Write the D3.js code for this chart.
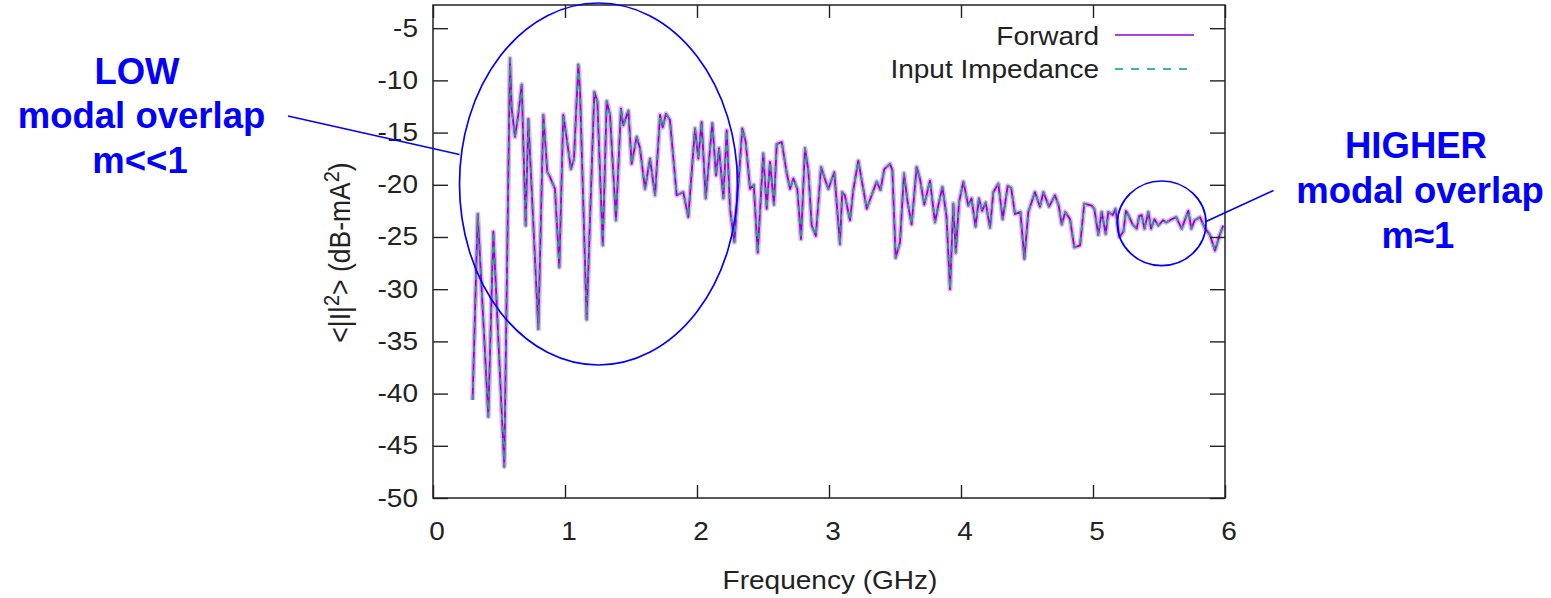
<!DOCTYPE html>
<html>
<head>
<meta charset="utf-8">
<script src="https://cdn.jsdelivr.net/npm/d3@7"></script>
<style>
  html, body { margin: 0; padding: 0; background: #ffffff; }
  svg { display: block; }
</style>
</head>
<body>
<svg id="chart" width="1551" height="598"></svg>
<script>
// Frequency samples (GHz)
const freqGHz = [
  0.30, 0.339, 0.419, 0.457, 0.54, 0.583, 0.596, 0.621, 0.646, 0.672,
  0.702, 0.722, 0.798, 0.836, 0.866, 0.881, 0.924, 0.957, 0.987, 1.013,
  1.045, 1.068, 1.101, 1.114, 1.164, 1.222, 1.245, 1.286, 1.316, 1.341,
  1.386, 1.424, 1.442, 1.48, 1.505, 1.543, 1.568, 1.606, 1.644, 1.682,
  1.72, 1.74, 1.765, 1.795, 1.846, 1.896, 1.934, 1.985, 2.01, 2.035,
  2.066, 2.116, 2.144, 2.167, 2.20, 2.225, 2.25, 2.283, 2.343, 2.369,
  2.402, 2.43, 2.46, 2.502, 2.528, 2.553, 2.583, 2.604, 2.642, 2.68,
  2.705, 2.73, 2.76, 2.788, 2.818, 2.843, 2.869, 2.90, 2.94, 2.97,
  2.995, 3.04, 3.083, 3.10, 3.12, 3.159, 3.184, 3.222, 3.286, 3.323,
  3.361, 3.39, 3.419, 3.462, 3.48, 3.505, 3.538, 3.568, 3.596, 3.626,
  3.664, 3.69, 3.722, 3.765, 3.803, 3.828, 3.859, 3.89, 3.917, 3.942,
  3.96, 3.985, 4.018, 4.055, 4.08, 4.11, 4.136, 4.16, 4.187, 4.22,
  4.245, 4.283, 4.316, 4.354, 4.38, 4.409, 4.45, 4.48, 4.51, 4.56,
  4.598, 4.624, 4.667, 4.712, 4.74, 4.763, 4.79, 4.826, 4.858, 4.902,
  4.934, 4.99, 5.01, 5.04, 5.066, 5.096, 5.116, 5.15, 5.17, 5.20,
  5.23, 5.25, 5.268, 5.30, 5.331, 5.35, 5.369, 5.39, 5.419, 5.44,
  5.465, 5.495, 5.53, 5.555, 5.596, 5.63, 5.672, 5.722, 5.745, 5.77,
  5.81, 5.85, 5.886, 5.924, 5.957, 5.987
];

// <|I|^2> from the forward computation (dB-mA^2)
const forwardDb = [
  -40.6, -22.8, -42.2, -24.5, -47.0, -7.9, -12.7, -15.4, -13.3, -10.4,
  -23.9, -13.7, -33.8, -13.3, -18.8, -19.1, -20.4, -27.9, -13.3, -15.6,
  -18.5, -17.5, -8.5, -11.1, -32.9, -11.1, -12.0, -25.8, -12.0, -13.3,
  -23.4, -12.7, -14.3, -12.9, -18.0, -15.4, -16.5, -20.4, -17.5, -21.0,
  -13.3, -14.5, -13.2, -13.8, -21.0, -20.7, -23.1, -14.6, -17.5, -14.0,
  -21.3, -14.1, -19.1, -16.5, -21.3, -14.8, -22.3, -25.5, -14.6, -15.9,
  -20.4, -20.0, -26.5, -17.0, -22.3, -17.8, -21.9, -16.1, -15.9, -18.9,
  -20.4, -19.4, -20.4, -25.2, -16.5, -18.6, -23.9, -24.9, -18.3, -19.5,
  -20.4, -18.8, -25.7, -20.7, -21.0, -23.4, -20.5, -17.7, -22.3, -21.0,
  -19.7, -20.5, -18.5, -18.0, -18.6, -27.0, -25.5, -18.9, -21.7, -23.8,
  -18.3, -19.5, -21.9, -19.6, -23.6, -22.0, -20.2, -23.0, -30.0, -21.8,
  -26.5, -21.7, -19.7, -22.0, -21.3, -24.0, -21.3, -22.5, -21.7, -24.1,
  -20.7, -19.9, -23.3, -20.1, -20.3, -22.8, -22.6, -27.1, -22.6, -20.7,
  -22.1, -20.7, -22.1, -21.0, -22.0, -23.8, -22.6, -23.3, -26.0, -25.8,
  -21.8, -22.0, -22.3, -24.8, -22.6, -24.7, -22.6, -22.9, -22.3, -25.0,
  -24.5, -22.5, -22.9, -23.8, -24.2, -23.0, -22.9, -24.2, -22.6, -24.2,
  -23.3, -23.9, -23.4, -23.6, -23.3, -23.1, -24.2, -22.5, -24.2, -23.4,
  -23.1, -24.2, -24.8, -26.3, -24.9, -23.9
];

// <|I|^2> from the input-impedance computation (dB-mA^2); coincides with the forward curve
const inputImpedanceDb = [
  -40.6, -22.8, -42.2, -24.5, -47.0, -7.9, -12.7, -15.4, -13.3, -10.4,
  -23.9, -13.7, -33.8, -13.3, -18.8, -19.1, -20.4, -27.9, -13.3, -15.6,
  -18.5, -17.5, -8.5, -11.1, -32.9, -11.1, -12.0, -25.8, -12.0, -13.3,
  -23.4, -12.7, -14.3, -12.9, -18.0, -15.4, -16.5, -20.4, -17.5, -21.0,
  -13.3, -14.5, -13.2, -13.8, -21.0, -20.7, -23.1, -14.6, -17.5, -14.0,
  -21.3, -14.1, -19.1, -16.5, -21.3, -14.8, -22.3, -25.5, -14.6, -15.9,
  -20.4, -20.0, -26.5, -17.0, -22.3, -17.8, -21.9, -16.1, -15.9, -18.9,
  -20.4, -19.4, -20.4, -25.2, -16.5, -18.6, -23.9, -24.9, -18.3, -19.5,
  -20.4, -18.8, -25.7, -20.7, -21.0, -23.4, -20.5, -17.7, -22.3, -21.0,
  -19.7, -20.5, -18.5, -18.0, -18.6, -27.0, -25.5, -18.9, -21.7, -23.8,
  -18.3, -19.5, -21.9, -19.6, -23.6, -22.0, -20.2, -23.0, -30.0, -21.8,
  -26.5, -21.7, -19.7, -22.0, -21.3, -24.0, -21.3, -22.5, -21.7, -24.1,
  -20.7, -19.9, -23.3, -20.1, -20.3, -22.8, -22.6, -27.1, -22.6, -20.7,
  -22.1, -20.7, -22.1, -21.0, -22.0, -23.8, -22.6, -23.3, -26.0, -25.8,
  -21.8, -22.0, -22.3, -24.8, -22.6, -24.7, -22.6, -22.9, -22.3, -25.0,
  -24.5, -22.5, -22.9, -23.8, -24.2, -23.0, -22.9, -24.2, -22.6, -24.2,
  -23.3, -23.9, -23.4, -23.6, -23.3, -23.1, -24.2, -22.5, -24.2, -23.4,
  -23.1, -24.2, -24.8, -26.3, -24.9, -23.9
];

const xTicks = [0, 1, 2, 3, 4, 5, 6];
const yTicks = [-50, -45, -40, -35, -30, -25, -20, -15, -10, -5];
const seriesNames = ["Forward", "Input Impedance"];

const lowLabel = ["LOW", "modal overlap", "m<<1"];
const highLabel = ["HIGHER", "modal overlap", "m\u22481"];

// ---- layout ----
const plot = { left: 433, right: 1225, top: 5, bottom: 498 };
const axisFont = "'Liberation Sans', Arial, Helvetica, sans-serif";
const axisFontSize = 25;
const widenK = 1.12;           // chart text is set slightly wide
const purple = "#9400D3";
const green = "#009E73";
const blue = "#0000FF";
const ink = "#222222";

const svg = d3.select("#chart");

const x = d3.scaleLinear().domain([0, 6]).range([plot.left, plot.right]);
const y = d3.scaleLinear().domain([-50, -2.78]).range([plot.bottom, plot.top]);

// plain hyphen-minus for negative tick labels
const tickFmt = d => String(d);

function widen(sel, k) {
  sel.each(function () {
    const w = this.getComputedTextLength();
    this.setAttribute("textLength", (w * k).toFixed(2));
    this.setAttribute("lengthAdjust", "spacingAndGlyphs");
  });
}

// ---- clip for the traces ----
svg.append("defs").append("clipPath").attr("id", "plotClip")
  .append("rect")
  .attr("x", plot.left).attr("y", plot.top)
  .attr("width", plot.right - plot.left).attr("height", plot.bottom - plot.top);

// ---- traces ----
const pts = (vals) => freqGHz.map((f, i) => [f, vals[i]]);
const line = d3.line().x(d => x(d[0])).y(d => y(d[1]));

const traces = svg.append("g").attr("clip-path", "url(#plotClip)");
// soft halo around the forward trace
traces.append("path")
  .attr("d", line(pts(forwardDb)))
  .attr("fill", "none")
  .attr("stroke", purple)
  .attr("stroke-opacity", 0.3)
  .attr("stroke-width", 5)
  .attr("stroke-linejoin", "round");
traces.append("path")
  .attr("d", line(pts(forwardDb)))
  .attr("fill", "none")
  .attr("stroke", purple)
  .attr("stroke-width", 1.8)
  .attr("stroke-linejoin", "round");
traces.append("path")
  .attr("d", line(pts(inputImpedanceDb)))
  .attr("fill", "none")
  .attr("stroke", "#2f9c84")
  .attr("stroke-width", 1.8)
  .attr("stroke-dasharray", "6,6")
  .attr("stroke-linejoin", "round");

// ---- axes (inward ticks, mirrored) ----
function styleAxis(g) {
  g.select(".domain").remove();
  g.selectAll(".tick line").attr("stroke", ink).attr("stroke-width", 1.4);
  g.selectAll(".tick text")
    .attr("fill", ink)
    .style("font-family", axisFont)
    .style("font-size", axisFontSize + "px");
}

const gx = svg.append("g")
  .attr("transform", `translate(0,${plot.bottom})`)
  .call(d3.axisBottom(x).tickValues(xTicks).tickFormat(tickFmt)
    .tickSizeInner(-13).tickSizeOuter(0).tickPadding(24));
styleAxis(gx);
gx.selectAll(".tick text").attr("x", 3.5);
widen(gx.selectAll(".tick text"), widenK);

const gy = svg.append("g")
  .attr("transform", `translate(${plot.left},0)`)
  .call(d3.axisLeft(y).tickValues(yTicks).tickFormat(tickFmt)
    .tickSizeInner(-15).tickSizeOuter(0).tickPadding(15));
styleAxis(gy);
widen(gy.selectAll(".tick text"), widenK);

const gxTop = svg.append("g")
  .attr("transform", `translate(0,${plot.top})`)
  .call(d3.axisTop(x).tickValues(xTicks).tickFormat("")
    .tickSizeInner(-13).tickSizeOuter(0));
styleAxis(gxTop);

const gyRight = svg.append("g")
  .attr("transform", `translate(${plot.right},0)`)
  .call(d3.axisRight(y).tickValues(yTicks).tickFormat("")
    .tickSizeInner(-15).tickSizeOuter(0));
styleAxis(gyRight);

// frame
svg.append("rect")
  .attr("x", plot.left).attr("y", plot.top)
  .attr("width", plot.right - plot.left).attr("height", plot.bottom - plot.top)
  .attr("fill", "none").attr("stroke", ink).attr("stroke-width", 1.5);

// ---- axis titles ----
const xTitle = svg.append("text")
  .attr("x", (plot.left + plot.right) / 2 + 1)
  .attr("y", 589)
  .attr("text-anchor", "middle")
  .attr("fill", ink)
  .style("font-family", axisFont)
  .style("font-size", axisFontSize + "px")
  .text("Frequency (GHz)");
widen(xTitle, widenK);

const yTitle = svg.append("text")
  .attr("transform", `translate(350,${(plot.top + plot.bottom) / 2 + 1}) rotate(-90) scale(1,${widenK})`)
  .attr("text-anchor", "middle")
  .attr("fill", ink)
  .style("font-family", axisFont)
  .style("font-size", "26.5px");
yTitle.append("tspan").text("<|I|");
yTitle.append("tspan").attr("dy", -10).style("font-size", "20px").text("2");
yTitle.append("tspan").attr("dy", 10).text("> (dB-mA");
yTitle.append("tspan").attr("dy", -10).style("font-size", "20px").text("2");
yTitle.append("tspan").attr("dy", 10).text(")");

// ---- legend ----
const legend = svg.append("g");
const legendRows = [
  { name: seriesNames[0], color: purple, dash: null, textY: 45, lineY: 35 },
  { name: seriesNames[1], color: green, dash: "8,8", textY: 78, lineY: 69 }
];
legendRows.forEach(r => {
  const t = legend.append("text")
    .attr("x", 1099).attr("y", r.textY)
    .attr("text-anchor", "end")
    .attr("fill", ink)
    .style("font-family", axisFont)
    .style("font-size", axisFontSize + "px")
    .text(r.name);
  widen(t, widenK);
  legend.append("line")
    .attr("x1", 1115).attr("x2", 1194)
    .attr("y1", r.lineY).attr("y2", r.lineY)
    .attr("stroke", r.color).attr("stroke-width", 1.7)
    .attr("stroke-dasharray", r.dash);
});

// ---- annotations ----
const ann = svg.append("g")
  .attr("fill", "none").attr("stroke", blue).attr("stroke-width", 1.7);
ann.append("ellipse").attr("cx", 598.5).attr("cy", 184).attr("rx", 139).attr("ry", 181);
ann.append("line").attr("x1", 288).attr("y1", 116).attr("x2", 459.5).attr("y2", 154.5);
ann.append("ellipse").attr("cx", 1161.7).attr("cy", 223.3).attr("rx", 44.3).attr("ry", 42.3);
ann.append("line").attr("x1", 1206).attr("y1", 221.5).attr("x2", 1273.5).attr("y2", 190.5);

function annText(lines, cx, baselines) {
  const t = svg.append("text")
    .attr("text-anchor", "middle")
    .attr("fill", blue)
    .style("font-family", "'Liberation Sans', Arial, Helvetica, sans-serif")
    .style("font-weight", "bold")
    .style("font-size", "36.5px");
  lines.forEach((s, i) => {
    t.append("tspan").attr("x", cx[i]).attr("y", baselines[i]).text(s);
  });
}
annText(lowLabel, [137, 141.5, 140], [84, 128, 173]);
annText(highLabel, [1416, 1420, 1418], [158, 203, 248]);
</script>
</body>
</html>
